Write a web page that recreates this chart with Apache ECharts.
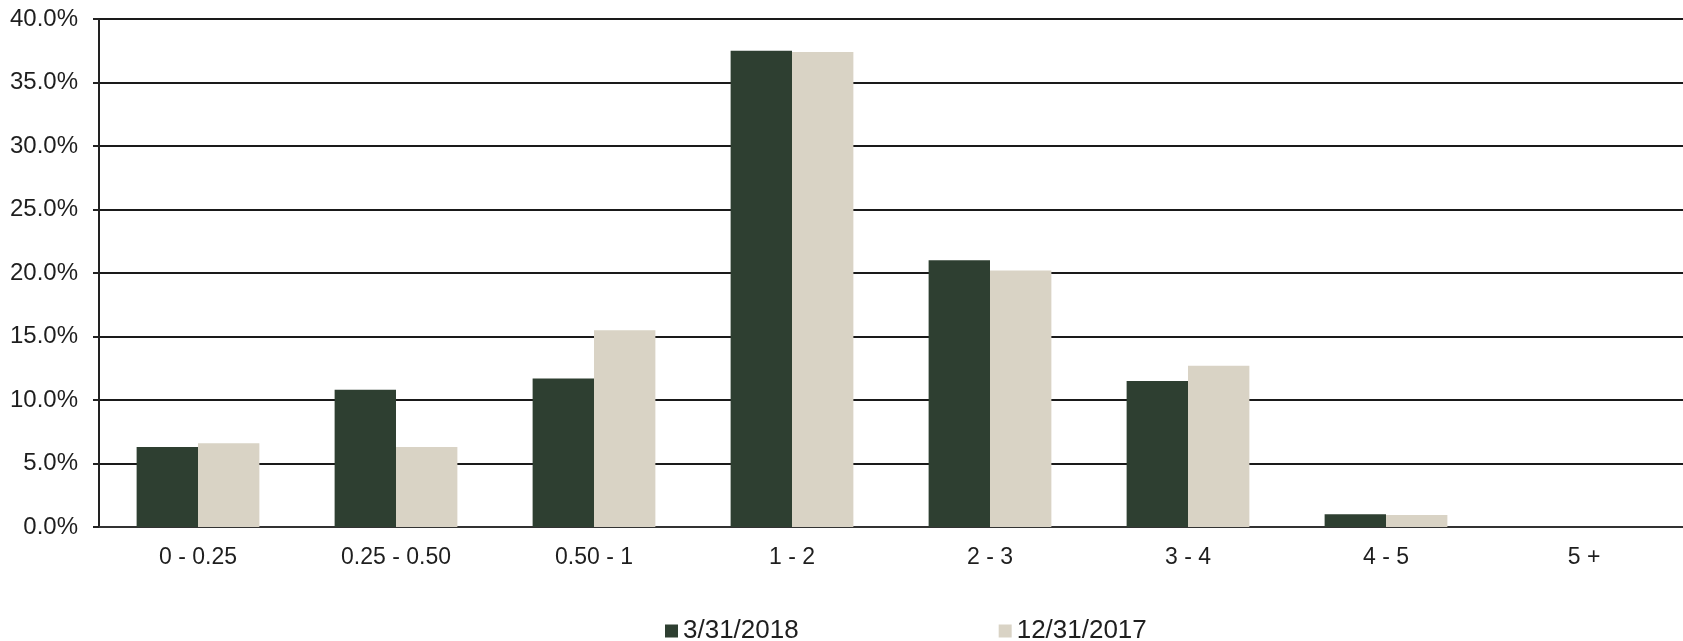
<!DOCTYPE html>
<html>
<head>
<meta charset="utf-8">
<script src="https://cdn.jsdelivr.net/npm/echarts@6/dist/echarts.min.js"></script>
<style>
  html, body { margin: 0; padding: 0; background: #fff; }
  #main { width: 1683px; height: 641px; }
</style>
</head>
<body>
<div id="main"></div>
<script>
// 数据
const categories = ["0 - 0.25", "0.25 - 0.50", "0.50 - 1", "1 - 2", "2 - 3", "3 - 4", "4 - 5", "5 +"];
const seriesNames = ["3/31/2018", "12/31/2017"];
const march2018 = [6.3, 10.8, 11.7, 37.5, 21.0, 11.5, 1.0, 0];
const dec2017 = [6.6, 6.3, 15.5, 37.4, 20.2, 12.7, 0.95, 0];
const yTicks = [0, 5, 10, 15, 20, 25, 30, 35, 40];

const myChart = echarts.init(document.getElementById("main"));
const textColor = "#1e1e1e";
const font = "Liberation Sans, Arial, sans-serif";

const option = {
  animation: false,
  backgroundColor: "#fff",
  color: ["#2e3f31", "#d9d3c5"],
  grid: { left: 99, right: 0, top: 19, bottom: 114, containLabel: false },
  legend: {
    data: seriesNames,
    left: 660,
    top: 613,
    itemGap: 200,
    itemWidth: 13,
    itemHeight: 13,
    icon: "rect",
    textStyle: { color: textColor, fontSize: 26, fontFamily: font }
  },
  xAxis: {
    type: "category",
    data: categories,
    axisLine: { lineStyle: { color: "#333", width: 2 } },
    axisTick: { show: false },
    axisLabel: { color: textColor, fontSize: 23, fontFamily: font, margin: 19 }
  },
  yAxis: {
    type: "value",
    min: yTicks[0],
    max: yTicks[yTicks.length - 1],
    interval: 5,
    axisLine: { show: true, lineStyle: { color: "#222", width: 2 } },
    axisTick: { show: true, length: 6, lineStyle: { color: "#222", width: 2 } },
    axisLabel: {
      color: textColor, fontSize: 24, fontFamily: font, margin: 21,
      formatter: (v) => v.toFixed(1) + "%"
    },
    splitLine: { lineStyle: { color: "#1a1a1a", width: 2 } }
  },
  series: [
    {
      name: seriesNames[0], type: "bar", data: march2018,
      barGap: "0%", barCategoryGap: "38%"
    },
    {
      name: seriesNames[1], type: "bar", data: dec2017,
      barGap: "0%", barCategoryGap: "38%"
    }
  ]
};
myChart.setOption(option);
</script>
</body>
</html>
